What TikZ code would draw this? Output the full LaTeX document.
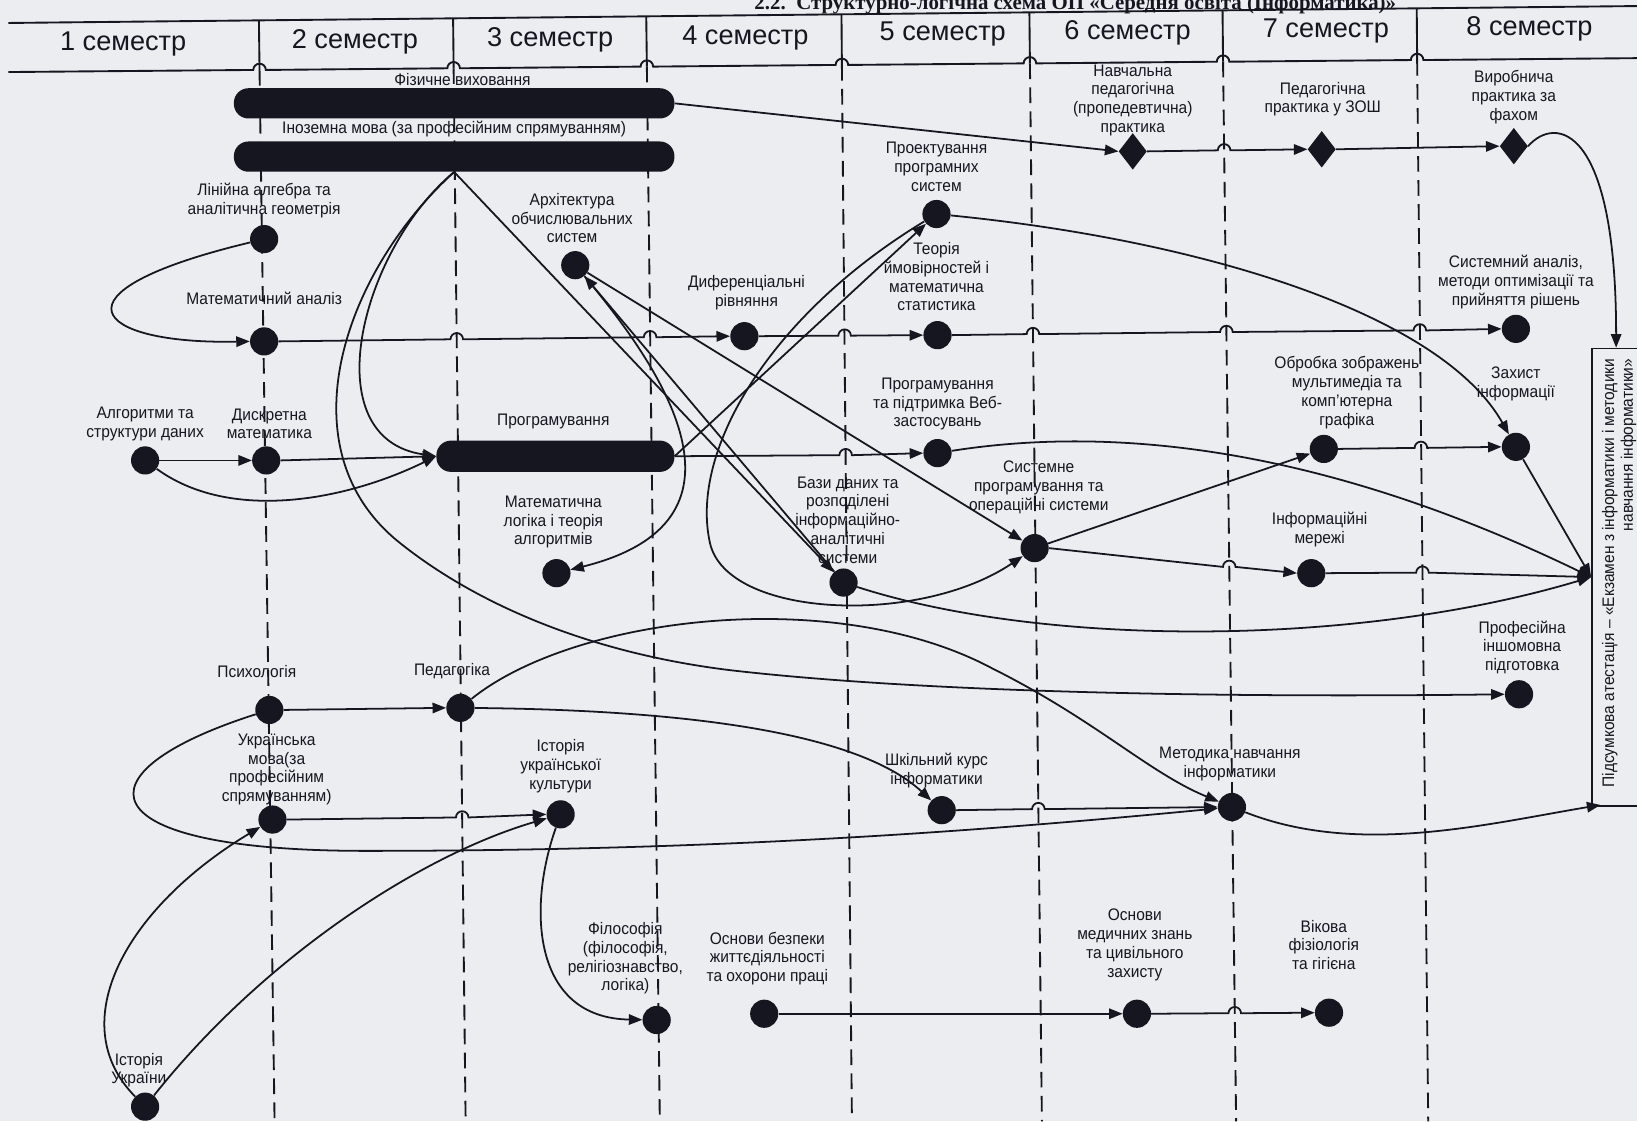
\documentclass[tikz,border=0pt]{standalone}
\usepackage{fontspec}
\setmainfont{Liberation Sans}
\newfontfamily\lblfont{Liberation Sans}[FakeStretch=0.93]
\newfontfamily\ttlfont{Liberation Serif}
\usetikzlibrary{arrows.meta,shapes.geometric}
\definecolor{bg}{RGB}{236,237,241}
\definecolor{ink}{RGB}{22,22,32}
\begin{document}
\begin{tikzpicture}[x=1pt,y=-1pt,color=ink,
  dot/.style={circle,fill=ink,minimum size=27pt,inner sep=0pt},
  dia/.style={diamond,fill=ink,minimum width=27pt,minimum height=35pt,inner sep=0pt},
  bar/.style={rectangle,rounded corners=14pt,fill=ink,inner sep=0pt},
  lbl/.style={font=\lblfont\fontsize{16}{18}\selectfont,align=center,inner sep=0pt},
  sem/.style={font=\fontsize{26}{30}\selectfont,inner sep=0pt},
  conn/.style={line width=1.7pt,-{Triangle[length=13pt,width=10pt]}},
  divs/.style={line width=1.8pt},
  divd/.style={line width=1.8pt,dash pattern=on 15pt off 8pt},
  hdr/.style={line width=1.8pt}]
\fill[bg] (0,0) rectangle (1568,1074);
\useasboundingbox (0,0) rectangle (1568,1074);

% title (partly outside the page, as in the scan)
\node[font=\ttlfont\bfseries\fontsize{20}{24}\selectfont,anchor=base] (title) at (1030,9) {2.2.~~Структурно-логічна схема ОП «Середня освіта (Інформатика)»};

% header
\draw[hdr] (8,22) -- (1568,5.8);
\draw[hdr] (8,69) -- (242.6,67) arc[start angle=180,end angle=360,radius=6]
  -- (428.5,65.4) arc[start angle=180,end angle=360,radius=6]
  -- (613.6,63.8) arc[start angle=180,end angle=360,radius=6]
  -- (800.4,62.2) arc[start angle=180,end angle=360,radius=6]
  -- (980.5,60.7) arc[start angle=180,end angle=360,radius=6]
  -- (1165.5,59.1) arc[start angle=180,end angle=360,radius=6]
  -- (1351.4,57.5) arc[start angle=180,end angle=360,radius=6]
  -- (1568,55.7);

% dividers
\draw[divs] (248,19.5) -- (248.6,67);   \draw[divd] (248.6,67) -- (263,1074);
\draw[divs] (434,17.6) -- (434.5,65.4); \draw[divd] (434.5,65.4) -- (446,1074);
\draw[divs] (619,15.6) -- (619.6,63.8); \draw[divd] (619.6,63.8) -- (632,1074);
\draw[divs] (806,13.7) -- (806.4,62.2); \draw[divd] (806.4,62.2) -- (816,1074);
\draw[divs] (986,11.8) -- (986.5,60.7); \draw[divd] (986.5,60.7) -- (998,1074);
\draw[divs] (1171,9.9) -- (1171.5,59.1); \draw[divd] (1171.5,59.1) -- (1184,1074);
\draw[divs] (1357,8) -- (1357.4,57.5); \draw[divd] (1357.4,57.5) -- (1368,1074);

% semester labels
\node[sem] (s1) at (118,42) {1 семестр};
\node[sem] (s2) at (340,40) {2 семестр};
\node[sem] (s3) at (527,38) {3 семестр};
\node[sem] (s4) at (714,36) {4 семестр};
\node[sem] (s5) at (903,33) {5 семестр};
\node[sem] (s6) at (1080,31) {6 семестр};
\node[sem] (s7) at (1270,30) {7 семестр};
\node[sem] (s8) at (1465,28) {8 семестр};

% bars
\node[bar,minimum width=422pt,minimum height=29pt] (phys) at (435,99) {};
\node[bar,minimum width=422pt,minimum height=29pt] (lang) at (435,150) {};
\node[bar,minimum width=228pt,minimum height=30pt] (prog) at (532,437) {};

% dots
\node[dot] (lin) at (253,229) {};
\node[dot] (man) at (253,327) {};
\node[dot] (alg) at (139,441) {};
\node[dot] (dis) at (255,441) {};
\node[dot] (arch) at (551,254) {};
\node[dot] (mlog) at (533,549) {};
\node[dot] (dif) at (713,322) {};
\node[dot] (proj) at (897,205) {};
\node[dot] (prob) at (898,321) {};
\node[dot] (web) at (898,434) {};
\node[dot] (db) at (808,558) {};
\node[dot] (sys) at (991,525) {};
\node[dia] (pr1) at (1085,145) {};
\node[dia] (pr2) at (1266,143) {};
\node[dia] (pr3) at (1450,140) {};
\node[dot] (san) at (1452,315) {};
\node[dot] (img) at (1268,430) {};
\node[dot] (sec) at (1452,428) {};
\node[dot] (net) at (1256,549) {};
\node[dot] (pfl) at (1455,665) {};
\node[dot] (psy) at (258,680) {};
\node[dot] (ped) at (441,678) {};
\node[dot] (ukr) at (261,785) {};
\node[dot] (cul) at (537,780) {};
\node[dot] (sch) at (902,776) {};
\node[dot] (met) at (1180,773) {};
\node[dot] (phil) at (629,977) {};
\node[dot] (bzh) at (732,971) {};
\node[dot] (med) at (1089,971) {};
\node[dot] (age) at (1273,970) {};
\node[dot] (hist) at (139,1060) {};

% final box
\node[draw,line width=1.5pt,minimum width=80pt,minimum height=438pt,anchor=north west,inner sep=0pt] (fin) at (1524,333) {};
\coordinate (fint) at (1548,333);
\coordinate (finb) at (1533,771);
\node[lbl,rotate=90,align=right] (fintxt) at (1551,549) {Підсумкова атестація – «Екзамен з інформатики і методики\\навчання інформатики»};

% connectors: top
\draw[conn] (phys.east) -- (pr1.west);
\draw[conn] (pr1.east) -- (1166.5,144) arc[start angle=180,end angle=360,radius=6] -- (pr2.west);
\draw[conn] (pr2.east) -- (pr3.west);
\draw[conn] (pr3.east) .. controls (1490,110) and (1548,120) .. (fint);

% from foreign language
\draw[conn] (lang.south) .. controls (345,240) and (300,420) .. (prog.west);
\draw[conn] (lang.south) .. controls (330,260) and (270,430) .. (383,520) .. controls (453,576) and (560,625) .. (700,642) .. controls (900,665) and (1200,668) .. (pfl.west);
\draw[conn] (lang.south) -- (db);

% maths
\draw[conn] (lin) .. controls (40,280) and (90,330) .. (man.west);
\draw[conn] (man.east) -- (431.5,325) arc[start angle=180,end angle=360,radius=6] -- (616.7,323) arc[start angle=180,end angle=360,radius=6] -- (dif.west);
\draw[conn] (dif.east) -- (803,321.5) arc[start angle=180,end angle=360,radius=6] -- (prob.west);
\draw[conn] (prob.east) -- (983.4,320) arc[start angle=180,end angle=360,radius=6] -- (1168.7,318) arc[start angle=180,end angle=360,radius=6] -- (1354,316.5) arc[start angle=180,end angle=360,radius=6] -- (san.west);

% algorithms
\draw[conn] (alg.east) -- (dis.west);
\draw[conn] (alg) .. controls (220,500) and (330,480) .. (prog.west);
\draw[conn] (dis.east) -- (prog.west);

% programming
\draw[conn] (prog.east) -- (804,436) arc[start angle=180,end angle=360,radius=6] -- (web.west);
\draw[conn] (prog.east) -- (proj);
\draw[conn] (arch) .. controls (640,360) and (730,500) .. (mlog);
\draw[conn] (db) -- (arch);
\draw[conn] (arch) -- (sys);
\draw[conn] (proj) .. controls (740,300) and (660,430) .. (680,520) .. controls (696,592) and (880,600) .. (sys);

% system programming etc.
\draw[conn] (sys) -- (img);
\draw[conn] (sys.east) -- (1171.4,543) arc[start angle=180,end angle=360,radius=6] -- (net.west);
\draw[conn] (img.east) -- (1355,429) arc[start angle=180,end angle=360,radius=6] -- (sec.west);
\draw[conn] (proj) .. controls (1150,230) and (1380,300) .. (sec);
\draw[conn] (sec) -- (fin.west);
\draw[conn] (web) .. controls (1050,410) and (1250,420) .. (fin.west);
\draw[conn] (db) .. controls (1000,620) and (1300,620) .. (fin.west);
\draw[conn] (net.east) -- (1356.5,548.5) arc[start angle=180,end angle=360,radius=6] -- (fin.west);

% lower part
\draw[conn] (psy.east) -- (ped.west);
\draw[conn] (ped) .. controls (650,680) and (820,700) .. (sch);
\draw[conn] (ped) .. controls (550,590) and (800,560) .. (950,640) .. controls (1050,690) and (1100,740) .. (met);
\draw[conn] (sch.east) -- (988.6,775) arc[start angle=180,end angle=360,radius=6] -- (met.west);
\draw[conn] (psy) .. controls (70,740) and (80,815) .. (350,815) .. controls (700,815) and (950,795) .. (met);
\draw[conn] (ukr.east) -- (436.7,783) arc[start angle=180,end angle=360,radius=6] -- (cul.west);
\draw[conn] (hist) .. controls (60,980) and (120,870) .. (ukr);
\draw[conn] (hist) .. controls (250,920) and (400,820) .. (cul);
\draw[conn] (cul) .. controls (505,870) and (510,975) .. (phil);
\draw[conn] (bzh.east) -- (med.west);
\draw[conn] (med.east) -- (1176.7,970.5) arc[start angle=180,end angle=360,radius=6] -- (age.west);
\draw[conn] (met) .. controls (1300,820) and (1420,790) .. (finb);

% labels
\node[lbl] (t_phys) at (443,76) {Фізичне виховання};
\node[lbl] (t_lang) at (435,124) {Іноземна мова (за професійним спрямуванням)};
\node[lbl] (t_lin) at (253,192) {Лінійна алгебра та\\аналітична геометрія};
\node[lbl] (t_man) at (253,286) {Математичний аналіз};
\node[lbl] (t_alg) at (139,406) {Алгоритми та\\структури даних};
\node[lbl] (t_dis) at (258,406) {Дискретна\\математика};
\node[lbl] (t_prog) at (530,404) {Програмування};
\node[lbl] (t_arch) at (548,209) {Архітектура\\обчислювальних\\систем};
\node[lbl] (t_mlog) at (530,500) {Математична\\логіка і теорія\\алгоритмів};
\node[lbl] (t_dif) at (715,280) {Диференціальні\\рівняння};
\node[lbl] (t_proj) at (897,160) {Проектування\\програмних\\систем};
\node[lbl] (t_prob) at (897,265) {Теорія\\ймовірностей і\\математична\\статистика};
\node[lbl] (t_web) at (898,387) {Програмування\\та підтримка Веб-\\застосувань};
\node[lbl] (t_db) at (812,498) {Бази даних та\\розподілені\\інформаційно-\\аналітичні\\системи};
\node[lbl] (t_sys) at (995,467) {Системне\\програмування та\\операційні системи};
\node[lbl] (t_pr1) at (1085,96) {Навчальна\\педагогічна\\(пропедевтична)\\практика};
\node[lbl] (t_pr2) at (1267,95) {Педагогічна\\практика у ЗОШ};
\node[lbl] (t_pr3) at (1450,93) {Виробнича\\практика за\\фахом};
\node[lbl] (t_san) at (1452,270) {Системний аналіз,\\методи оптимізації та\\прийняття рішень};
\node[lbl] (t_img) at (1290,376) {Обробка зображень\\мультимедіа та\\комп’ютерна\\графіка};
\node[lbl] (t_sec) at (1452,368) {Захист\\інформації};
\node[lbl] (t_net) at (1264,507) {Інформаційні\\мережі};
\node[lbl] (t_pfl) at (1458,620) {Професійна\\іншомовна\\підготовка};
\node[lbl] (t_psy) at (246,643) {Психологія};
\node[lbl] (t_ped) at (433,643) {Педагогіка};
\node[lbl] (t_ukr) at (265,737) {Українська\\мова(за\\професійним\\спрямуванням)};
\node[lbl] (t_cul) at (537,734) {Історія\\української\\культури};
\node[lbl] (t_sch) at (897,738) {Шкільний курс\\інформатики};
\node[lbl] (t_met) at (1178,732) {Методика навчання\\інформатики};
\node[lbl] (t_phil) at (599,918) {Філософія\\(філософія,\\релігіознавство,\\логіка)};
\node[lbl] (t_bzh) at (735,918) {Основи безпеки\\життєдіяльності\\та охорони праці};
\node[lbl] (t_med) at (1087,905) {Основи\\медичних знань\\та цивільного\\захисту};
\node[lbl] (t_age) at (1268,905) {Вікова\\фізіологія\\та гігієна};
\node[lbl] (t_hist) at (133,1025) {Історія\\України};
\end{tikzpicture}
\end{document}
